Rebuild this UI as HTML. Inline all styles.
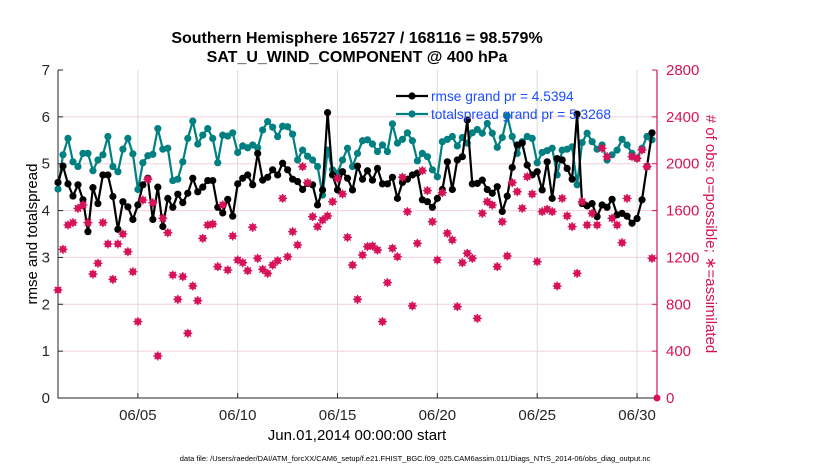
<!DOCTYPE html>
<html><head><meta charset="utf-8"><style>
body{margin:0;background:#fff;}
svg{display:block;font-family:"Liberation Sans",Arial,sans-serif;}
</style></head><body>
<svg id="chart" width="830" height="470" viewBox="0 0 830 470">
<text x="357" y="43" text-anchor="middle" font-size="16" font-weight="bold">Southern Hemisphere 165727 / 168116 = 98.579%</text>
<text x="357" y="62" text-anchor="middle" font-size="16" font-weight="bold">SAT_U_WIND_COMPONENT @ 400 hPa</text>
<g id="grid"></g>
<g id="axes"></g>
<g id="series"></g>
<g id="legend"></g>
<text transform="translate(37,234) rotate(-90)" text-anchor="middle" font-size="15">rmse and totalspread</text>
<text transform="translate(706,234) rotate(90)" text-anchor="middle" font-size="15" fill="#d6135a"># of obs: o=possible; ∗=assimilated</text>
<text x="357" y="440" text-anchor="middle" font-size="15">Jun.01,2014 00:00:00 start</text>
<text x="415" y="461" text-anchor="middle" font-size="7.5">data file: /Users/raeder/DAI/ATM_forcXX/CAM6_setup/f.e21.FHIST_BGC.f09_025.CAM6assim.011/Diags_NTrS_2014-06/obs_diag_output.nc</text>
</svg>
<script>
const leftTicks=[0,1,2,3,4,5,6,7];
const rightTicks=[0,400,800,1200,1600,2000,2400,2800];
const xTickDays=[4,9,14,19,24,29];
const xTickLabels=["06/05","06/10","06/15","06/20","06/25","06/30"];
const rmse=[4.6,4.95,4.57,4.31,4.55,4.23,3.55,4.49,4.15,4.76,4.76,4.30,3.60,4.19,4.08,3.81,4.12,4.55,4.69,3.81,4.50,3.66,4.26,4.07,4.35,4.17,4.37,4.69,4.40,4.50,4.64,4.64,4.07,3.95,4.24,3.88,4.57,4.69,4.76,4.55,5.22,4.65,
4.71,4.87,4.76,5.01,4.87,4.67,4.62,4.45,4.58,4.55,4.12,4.44,6.09,4.76,4.44,4.83,4.69,4.44,4.95,4.67,4.85,4.65,4.90,4.57,4.57,4.71,4.26,4.60,4.67,4.76,4.80,4.23,4.19,4.07,4.26,4.45,5.04,4.45,5.08,5.15,5.93,
4.57,4.58,4.65,4.45,4.37,4.51,3.98,4.31,4.92,5.40,5.44,4.97,4.76,4.83,4.44,5.04,4.26,5.11,5.08,4.90,4.67,6.06,4.15,4.10,4.15,3.87,4.12,4.07,4.24,3.91,3.94,3.88,3.73,3.83,4.23,4.94,5.66];
const spread=[4.46,5.19,5.54,5.04,4.94,5.22,5.22,4.85,5.08,5.19,5.58,4.94,4.83,5.31,5.54,5.21,4.45,5.02,5.17,5.20,5.75,5.31,5.33,4.64,4.67,5.04,5.54,5.91,5.42,5.61,5.75,5.54,5.02,5.61,5.59,5.66,5.24,5.38,5.34,5.40,5.34,5.72,
5.90,5.78,5.58,5.80,5.79,5.63,5.08,5.29,5.16,5.08,4.94,4.33,5.29,4.87,4.80,5.08,5.33,4.94,5.22,5.49,5.51,5.42,5.26,5.40,5.26,5.85,5.44,5.52,5.66,5.49,5.06,5.22,5.15,4.87,4.72,5.47,5.52,5.58,5.38,5.56,5.44,
5.66,5.73,5.65,5.86,5.65,5.35,5.56,6.02,5.58,5.22,5.47,5.58,5.54,5.02,5.24,5.28,5.33,4.76,5.29,5.31,5.36,4.55,5.45,5.65,5.47,5.31,5.40,5.08,5.19,5.29,5.52,5.40,5.22,5.11,5.33,5.58,5.51];
const nobs=[922,1269,1477,1497,1619,1648,1497,1058,1150,1497,1315,1013,1315,1400,1249,1078,652,1690,1867,1667,359,1534,1411,1050,842,1036,552,956,831,1363,1477,1485,1121,1648,1093,1383,1178,1155,1087,1457,1192,1098,
1064,1135,1172,1704,1206,1420,1306,1975,1838,1548,1463,1519,1554,1676,1875,1741,1371,1135,842,1221,1292,1298,1263,652,985,1278,1206,1884,1591,786,1320,1941,1770,1505,1178,1753,1406,1349,780,1155,1235,
1192,680,1576,1676,1647,1121,1505,1212,1838,1761,1619,1889,1741,1164,1591,1611,1591,956,1704,1554,1463,1064,1676,1477,1576,1477,2131,2060,1534,1477,1326,1704,2060,2046,2117,1975,1192];
const days=rmse.map((v,i)=>i/4);

const NS="http://www.w3.org/2000/svg";
const L=58,R=657,T=70,B=398;
const xS=d=>L+d*(R-L)/30;
const yL=v=>B-v*(B-T)/7;
const yR=v=>B-v*(B-T)/2800;
const RED="#d6135a",TEAL="#008080";
function mk(tag,attrs,parent){const e=document.createElementNS(NS,tag);for(const k in attrs)e.setAttribute(k,attrs[k]);parent.appendChild(e);return e;}
const grid=document.getElementById('grid'),axes=document.getElementById('axes'),ser=document.getElementById('series'),leg=document.getElementById('legend');

rightTicks.forEach((t,i)=>{
  const y=yR(t);
  if(i>0&&i<rightTicks.length-1){const g=mk('line',{x1:L,x2:R,y1:y,y2:y,stroke:"#f3cfdc","stroke-width":1},grid);
  
  }
  const tk=mk('line',{x1:R,x2:R-5,y1:y,y2:y,stroke:RED},axes);
  
  
  const tx=mk('text',{x:R+9,y:y+5,"font-size":15,fill:RED},axes);tx.textContent=t;
  
  
});
xTickDays.forEach((d,i)=>{
  const x=xS(d);
  const g=mk('line',{x1:x,x2:x,y1:T,y2:B,stroke:"#dcdcdc"},grid);
  
  
  const tk=mk('line',{x1:x,x2:x,y1:B,y2:B-5,stroke:"#262626"},axes);
  
  
  const tx=mk('text',{x:x,y:B+22,"font-size":15,"text-anchor":"middle",fill:"#262626"},axes);tx.textContent=xTickLabels[i];
  
  
});
leftTicks.forEach(t=>{
  const y=yL(t);
  const tk=mk('line',{x1:L,x2:L+5,y1:y,y2:y,stroke:"#262626"},axes);
  
  
  const tx=mk('text',{x:L-8,y:y+5,"font-size":15,"text-anchor":"end",fill:"#262626"},axes);tx.textContent=t;
  
  
});
const ax=mk('path',{d:`M${L},${T}V${B}H${R}`,fill:"none",stroke:"#262626","stroke-width":1},axes);


const axr=mk('line',{x1:R,x2:R,y1:T,y2:B,stroke:RED,"stroke-width":1.2},axes);


const zero=mk('circle',{cx:R,cy:B,r:3.5,fill:RED},axes);



function line(vals,color,name){
  const pts=vals.map((v,i)=>xS(days[i]).toFixed(1)+","+yL(v).toFixed(1)).join(" ");
  const p=mk('polyline',{points:pts,fill:"none",stroke:color,"stroke-width":2.2,"stroke-linejoin":"round"},ser);
  
  
  vals.forEach((v,i)=>{
    const c=mk('circle',{cx:xS(days[i]),cy:yL(v),r:3.6,fill:color},ser);
    
    
  });
}
line(spread,TEAL,'totalspread');
line(rmse,"#000",'rmse');
nobs.forEach((v,i)=>{
  const x=xS(days[i]),y=yR(v);
  const g=mk('g',{},ser);
  
  
  mk('circle',{cx:x,cy:y,r:3.4,fill:RED},g);
  mk('path',{d:`M${x-4.5},${y}H${x+4.5}M${x},${y-4.5}V${y+4.5}M${x-3.2},${y-3.2}L${x+3.2},${y+3.2}M${x-3.2},${y+3.2}L${x+3.2},${y-3.2}`,stroke:RED,"stroke-width":1.3},g);
});

[["rmse grand pr = 4.5394","#000",96],["totalspread grand pr = 5.3268",TEAL,114]].forEach((e,k)=>{
  const g=mk('g',{},leg);
  
  
  mk('line',{x1:396,x2:428,y1:e[2],y2:e[2],stroke:e[1],"stroke-width":2.2},g);
  mk('circle',{cx:412,cy:e[2],r:3.6,fill:e[1]},g);
  const t=mk('text',{x:431,y:e[2]+5,"font-size":13.7,fill:"#1a4dff"},g);t.textContent=e[0];
});
</script>
</body></html>
